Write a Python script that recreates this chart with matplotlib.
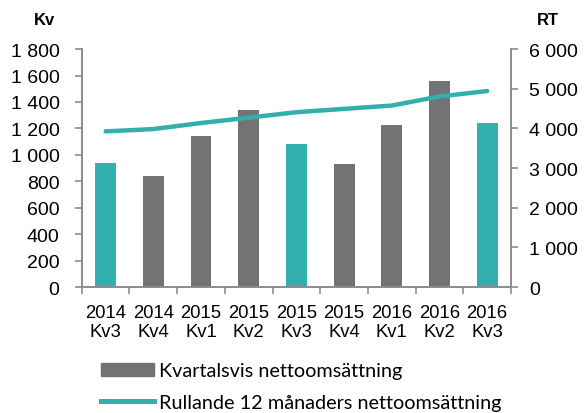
import matplotlib.pyplot as plt
from matplotlib.ticker import FuncFormatter
from matplotlib.patches import Patch
from matplotlib.lines import Line2D
import numpy as np

plt.rcParams['font.family'] = ['Liberation Sans', 'DejaVu Sans']

years = ['2014', '2014', '2015', '2015', '2015', '2015', '2016', '2016', '2016']
quarters = ['Kv3', 'Kv4', 'Kv1', 'Kv2', 'Kv3', 'Kv4', 'Kv1', 'Kv2', 'Kv3']
kvartal = [938, 837, 1140, 1343, 1086, 931, 1228, 1559, 1241]
rullande = [3926, 3984, 4137, 4272, 4409, 4493, 4577, 4806, 4943]

TEAL = '#33AFAF'
GRAY = '#737373'
SPINE = '#8C8C8C'

bar_colors = [TEAL if q == 'Kv3' else GRAY for q in quarters]


def space_fmt(v, pos):
    return f'{int(v):,}'.replace(',', ' ')


fig = plt.figure(figsize=(5.84, 4.14), dpi=100)
ax = fig.add_axes([0.140, 0.304, 0.735, 0.575])
ax2 = ax.twinx()

x = np.arange(len(kvartal))
ax.bar(x, kvartal, width=0.44, color=bar_colors, zorder=2)
ax2.plot(x, rullande, color=TEAL, lw=3.2, solid_capstyle='round', zorder=3)

ax.set_xlim(-0.5, len(x) - 0.5)
ax.set_ylim(0, 1800)
ax.set_yticks(range(0, 1801, 200))
ax2.set_ylim(0, 6000)
ax2.set_yticks(range(0, 6001, 1000))
ax.yaxis.set_major_formatter(FuncFormatter(space_fmt))
ax2.yaxis.set_major_formatter(FuncFormatter(space_fmt))

ax.set_xticks(np.arange(-0.5, len(x)), minor=False)
ax.set_xticklabels([])
ax.set_xticks(x, minor=True)
ax.set_xticklabels([f'{y}\n{q}' for y, q in zip(years, quarters)], minor=True)
ax.tick_params(axis='x', which='minor', length=0, labelsize=13.3, pad=12)
ax.tick_params(axis='x', which='major', length=5, color=SPINE, width=1.2)
ax.tick_params(axis='y', length=5, color=SPINE, width=1.2, labelsize=14, pad=11)
ax2.tick_params(axis='y', length=5, color=SPINE, width=1.2, labelsize=14, pad=8)

for a in (ax, ax2):
    a.spines['top'].set_visible(False)
    for s in ('left', 'right', 'bottom'):
        a.spines[s].set_color(SPINE)
        a.spines[s].set_linewidth(1.2)
ax.set_zorder(ax2.get_zorder() - 1)
ax.patch.set_visible(False)

fig.text(0.077, 0.95, 'Kv', fontsize=12, fontweight='bold', ha='center', va='center')
fig.text(0.938, 0.95, 'RT', fontsize=12, fontweight='bold', ha='center', va='center')

handles = [Patch(color=GRAY), Line2D([], [], color=TEAL, lw=3.6)]
labels = ['Kvartalsvis nettoomsättning', 'Rullande 12 månaders nettoomsättning']
fig.legend(handles, labels, loc='upper left', bbox_to_anchor=(0.173, 0.122),
           frameon=False, prop={'family': 'Lato', 'size': 14.3}, handlelength=2.65,
           handletextpad=0.25, labelspacing=0.75, borderaxespad=0, borderpad=0)

fig.savefig('out.png', dpi=100)
